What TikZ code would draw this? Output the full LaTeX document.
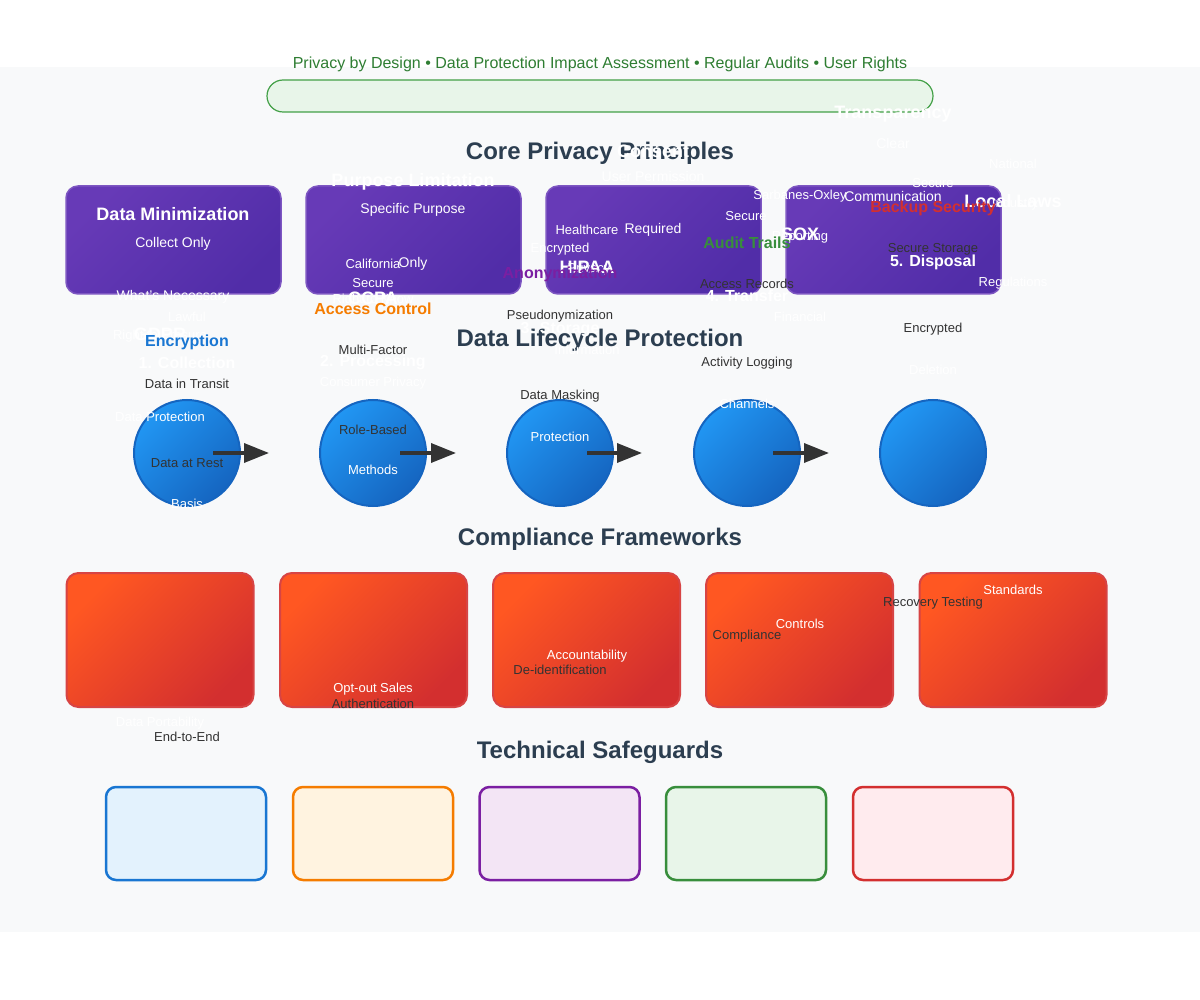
\documentclass[tikz,border=0pt]{standalone}
\usepackage{fontspec}
\setmainfont{Liberation Sans}
\usetikzlibrary{arrows.meta}
\definecolor{bandgray}{HTML}{F8F9FA}
\definecolor{titlec}{HTML}{2C3E50}
\definecolor{darktext}{HTML}{333333}
\definecolor{topgreen}{HTML}{2E7D32}
\definecolor{gfill}{HTML}{E8F5E9}
\definecolor{gline}{HTML}{43A047}
\definecolor{purpA}{HTML}{673AB7}
\definecolor{purpB}{HTML}{512DA8}
\definecolor{purpL}{HTML}{7E57C2}
\definecolor{blueA}{HTML}{2196F3}
\definecolor{blueB}{HTML}{1565C0}
\definecolor{redA}{HTML}{FF5722}
\definecolor{redB}{HTML}{D32F2F}
\definecolor{sgblue}{HTML}{1976D2}
\definecolor{sgbluef}{HTML}{E3F2FD}
\definecolor{sgorange}{HTML}{F57C00}
\definecolor{sgorangef}{HTML}{FFF3E0}
\definecolor{sgpurple}{HTML}{7B1FA2}
\definecolor{sgpurplef}{HTML}{F3E5F5}
\definecolor{sggreen}{HTML}{388E3C}
\definecolor{sggreenf}{HTML}{E8F5E9}
\definecolor{sgred}{HTML}{D32F2F}
\definecolor{sgredf}{HTML}{FFEBEE}
\newcommand\fsz[1]{\fontsize{#1}{#1}\selectfont}
\begin{document}
\begin{tikzpicture}[x=1pt,y=-1pt,
  txt/.style={inner sep=0pt, anchor=center, yshift=-1.5pt},
  wt/.style={txt, text=white, font=\fsz{13}},
  wsub/.style={txt, text=white, font=\fsz{14}},
  whead/.style={txt, text=white, font=\bfseries\fsz{18}},
  wstage/.style={txt, text=white, font=\bfseries\fsz{16}},
  dt/.style={txt, text=darktext, font=\fsz{13}},
  tech/.style={txt, font=\bfseries\fsz{16}},
  sectitle/.style={txt, text=titlec, font=\bfseries\fsz{24}},
  pbox/.style={draw=purpL, line width=1.5pt, rounded corners=12pt, top color=purpA, bottom color=purpB, shading angle=45, minimum width=215pt, minimum height=108pt, inner sep=0pt},
  cbox/.style={draw=redB!90!white, line width=2pt, rounded corners=12pt, top color=redA, bottom color=redB, shading angle=45, minimum width=187pt, minimum height=134pt, inner sep=0pt},
  lcirc/.style={circle, draw=blueB, line width=2pt, top color=blueA, bottom color=blueB, shading angle=45, minimum size=106pt, inner sep=0pt},
  sgbox/.style={line width=2.5pt, rounded corners=10pt, minimum width=160pt, minimum height=93pt, inner sep=0pt},
  flow/.style={draw=darktext, line width=3.5pt, -{Triangle[length=25pt,width=19pt]}}
]
\useasboundingbox (0,0) rectangle (1200,1000);
\fill[white] (0,0) rectangle (1200,1000);
\fill[bandgray] (0,67) rectangle (1200,932);

% top banner
\node[txt, text=topgreen, font=\fsz{16}] (banner) at (600,63) {Privacy by Design • Data Protection Impact Assessment • Regular Audits • User Rights};
\node[draw=gline, line width=1.2pt, fill=gfill, rounded corners=16pt, minimum width=666pt, minimum height=32pt, inner sep=0pt] (bannerbox) at (600,96) {};

% section titles
\node[sectitle] (s1) at (600,152) {Core Privacy Principles};

% purple principle boxes
\node[pbox] (p1) at (173.5,240) {};
\node[pbox] (p2) at (413.5,240) {};
\node[pbox] (p3) at (653.5,240) {};
\node[pbox] (p4) at (893.5,240) {};

% lifecycle circles
\node[lcirc] (c1) at (187,453) {};
\node[lcirc] (c2) at (373,453) {};
\node[lcirc] (c3) at (560,453) {};
\node[lcirc] (c4) at (747,453) {};
\node[lcirc] (c5) at (933,453) {};

\coordinate (a1s) at (213,453); \coordinate (a1e) at (269,453);
\coordinate (a2s) at (400,453); \coordinate (a2e) at (456,453);
\coordinate (a3s) at (587,453); \coordinate (a3e) at (642,453);
\coordinate (a4s) at (773,453); \coordinate (a4e) at (829,453);
\draw[flow] (a1s) -- (a1e);
\draw[flow] (a2s) -- (a2e);
\draw[flow] (a3s) -- (a3e);
\draw[flow] (a4s) -- (a4e);

% compliance boxes
\node[cbox] (f1) at (160,640) {};
\node[cbox] (f2) at (373.5,640) {};
\node[cbox] (f3) at (586.5,640) {};
\node[cbox] (f4) at (799.5,640) {};
\node[cbox] (f5) at (1013,640) {};

% safeguard boxes
\node[sgbox, draw=sgblue, fill=sgbluef] (g1) at (186,833.5) {};
\node[sgbox, draw=sgorange, fill=sgorangef] (g2) at (373,833.5) {};
\node[sgbox, draw=sgpurple, fill=sgpurplef] (g3) at (559.5,833.5) {};
\node[sgbox, draw=sggreen, fill=sggreenf] (g4) at (746,833.5) {};
\node[sgbox, draw=sgred, fill=sgredf] (g5) at (933,833.5) {};

\node[sectitle] (s2) at (600,339) {Data Lifecycle Protection};
\node[sectitle] (s3) at (600,538) {Compliance Frameworks};
\node[sectitle] (s4) at (600,751) {Technical Safeguards};

% principle texts
\node[whead] (h1) at (173,213) {Data Minimization};
\node[wsub] (h1a) at (173,242) {Collect Only};
\node[wsub] (h1b) at (173,295) {What's Necessary};
\node[whead] (h2) at (413,180) {Purpose Limitation};
\node[wsub] (h2a) at (413,208) {Specific Purpose};
\node[wsub] (h2b) at (413,262) {Only};
\node[whead] (h3) at (653,150) {Consent};
\node[wsub] (h3a) at (653,175) {User Permission};
\node[wsub] (h3b) at (653,228) {Required};
\node[whead] (h4) at (893,113) {Transparency};
\node[wsub] (h4a) at (893,142) {Clear};
\node[wsub] (h4b) at (893,195) {Communication};

% lifecycle stage texts
\node[wstage] (l1) at (187,361) {1. Collection};
\node[wt] (l1a) at (187,315) {Lawful};
\node[wt] (l1b) at (187,502) {Basis};
\node[wstage] (l2) at (373,361) {2. Processing};
\node[wt] (l2a) at (373,282) {Secure};
\node[wt] (l2b) at (373,468) {Methods};
\node[wstage] (l3) at (560,328) {3. Storage};
\node[wt] (l3a) at (560,248) {Encrypted};
\node[wt] (l3b) at (560,435) {Protection};
\node[wstage] (l4) at (747,294) {4. Transfer};
\node[wt] (l4a) at (746,215) {Secure};
\node[wt] (l4b) at (747,402) {Channels};
\node[wstage] (l5) at (933,261) {5. Disposal};
\node[wt] (l5a) at (933,182) {Secure};
\node[wt] (l5b) at (933,368) {Deletion};

% compliance framework texts
\node[whead] (k1) at (160,333) {GDPR};
\node[wt] (k1a) at (160,335) {Right to Erasure};
\node[wt] (k1b) at (160,415) {Data Protection};
\node[wt] (k1c) at (160,722) {Data Portability};
\node[whead] (k2) at (373,297) {CCPA};
\node[wt] (k2a) at (373,262) {California};
\node[wt] (k2b) at (373,382) {Consumer Privacy};
\node[wt] (k2c) at (373,299) {Right to Know};
\node[wt] (k2d) at (373,688) {Opt-out Sales};
\node[whead] (k3) at (587,266) {HIPAA};
\node[wt] (k3a) at (587,228) {Healthcare};
\node[wt] (k3b) at (587,348) {Information};
\node[wt] (k3c) at (589,268) {Privacy};
\node[wt] (k3d) at (587,655) {Accountability};
\node[whead] (k4) at (800,233) {SOX};
\node[wt] (k4a) at (800,195) {Sarbanes-Oxley};
\node[wt] (k4b) at (800,315) {Financial};
\node[wt] (k4c) at (800,236) {Reporting};
\node[wt] (k4d) at (800,622) {Controls};
\node[whead] (k5) at (1013,200) {Local Laws};
\node[wt] (k5a) at (1013,162) {National};
\node[wt] (k5b) at (1013,282) {Regulations};
\node[wt] (k5c) at (1015,203) {Industry};
\node[wt] (k5d) at (1013,588) {Standards};

% technical safeguard texts
\node[tech, text=sgblue] (e1) at (187,341) {Encryption};
\node[dt] (e1a) at (187,382) {Data in Transit};
\node[dt] (e1b) at (187,462) {Data at Rest};
\node[dt] (e1c) at (187,735) {End-to-End};
\node[tech, text=sgorange] (e2) at (373,307) {Access Control};
\node[dt] (e2a) at (373,348) {Multi-Factor};
\node[dt] (e2b) at (373,428) {Role-Based};
\node[dt] (e2c) at (373,702) {Authentication};
\node[tech, text=sgpurple] (e3) at (560,273) {Anonymization};
\node[dt] (e3a) at (560,315) {Pseudonymization};
\node[dt] (e3b) at (560,395) {Data Masking};
\node[dt] (e3c) at (560,668) {De-identification};
\node[tech, text=sggreen] (e4) at (747,241) {Audit Trails};
\node[dt] (e4a) at (747,282) {Access Records};
\node[dt] (e4b) at (747,362) {Activity Logging};
\node[dt] (e4c) at (747,635) {Compliance};
\node[tech, text=sgred] (e5) at (933,207) {Backup Security};
\node[dt] (e5a) at (933,248) {Secure Storage};
\node[dt] (e5b) at (933,328) {Encrypted};
\node[dt] (e5c) at (933,602) {Recovery Testing};
\end{tikzpicture}
\end{document}
